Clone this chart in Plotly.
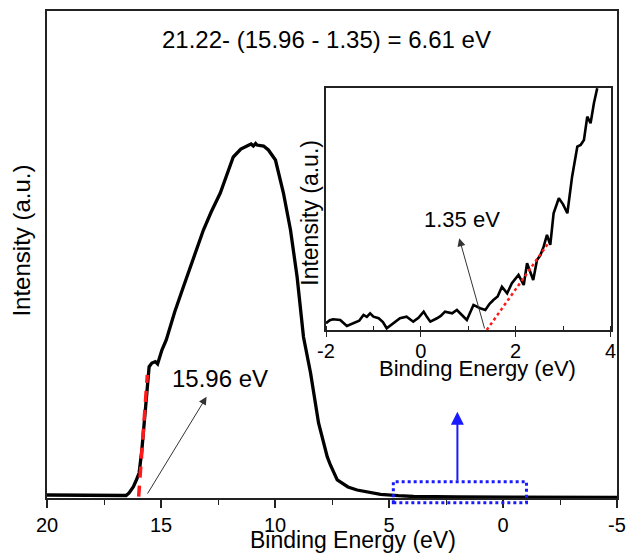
import plotly.graph_objects as go

# ---------------- data ----------------
main_energy = [20.0, 19.0, 18.0, 17.0, 16.6, 16.53, 16.4, 16.21, 16.1, 15.96, 15.84, 15.74,
               15.62, 15.52, 15.40, 15.25, 15.15, 15.04, 14.96, 14.77, 14.4, 14.02, 13.6,
               13.14, 12.8, 12.40, 12.1, 11.83, 11.5, 11.3, 11.17, 11.05, 10.95, 10.85,
               10.79, 10.7, 10.5, 10.29, 9.98, 9.63, 9.32, 9.03, 8.75, 8.44, 8.09, 7.71,
               7.57, 7.27, 7.13, 6.8, 6.40, 5.9, 5.37, 4.6, 3.92, 2.0, 0.0, -5.0]
main_intensity = [0.0062, 0.0062, 0.0062, 0.0062, 0.0055, 0.0051, 0.0103, 0.0232, 0.0349,
                  0.0513, 0.0986, 0.154, 0.2218, 0.2696, 0.2772, 0.2799, 0.2752, 0.2901,
                  0.3039, 0.3244, 0.3819, 0.4333, 0.4908, 0.5503, 0.5873, 0.6263, 0.6653,
                  0.7002, 0.7166, 0.7207, 0.7248, 0.7270, 0.7228, 0.7280, 0.7248, 0.7238,
                  0.7228, 0.7146, 0.6940, 0.6263, 0.5503, 0.4538, 0.3306, 0.2567, 0.1540,
                  0.0848, 0.0678, 0.0370, 0.0329, 0.0226, 0.0164, 0.0113, 0.0076, 0.0047,
                  0.0031, 0.0021, 0.0014, 0.0010]

inset_energy = [-2.0, -1.92, -1.85, -1.70, -1.56, -1.42, -1.30, -1.21, -1.14, -1.07, -1.0,
                -0.89, -0.80, -0.72, -0.58, -0.50, -0.44, -0.30, -0.16, -0.05, 0.06, 0.13,
                0.20, 0.34, 0.42, 0.51, 0.66, 0.76, 0.87, 0.97, 1.11, 1.18, 1.25, 1.36,
                1.45, 1.53, 1.62, 1.71, 1.82, 1.92, 2.06, 2.17, 2.24, 2.37, 2.45, 2.52,
                2.59, 2.66, 2.73, 2.80, 2.91, 3.00, 3.09, 3.19, 3.30, 3.37, 3.44, 3.51,
                3.58, 3.65, 3.72]
inset_intensity = [0.0297, 0.0420, 0.0462, 0.0433, 0.0186, 0.0297, 0.0400, 0.0639, 0.0560,
                   0.0709, 0.0569, 0.0503, 0.0350, 0.0091, 0.0297, 0.0450, 0.0503, 0.0569,
                   0.0363, 0.0520, 0.0775, 0.0550, 0.0363, 0.0503, 0.0600, 0.0775, 0.0709,
                   0.0845, 0.0650, 0.0433, 0.1052, 0.0980, 0.0915, 0.0845, 0.1100, 0.1258,
                   0.1400, 0.1806, 0.1534, 0.1946, 0.2289, 0.1876, 0.2771, 0.2082, 0.2907,
                   0.3100, 0.3456, 0.3938, 0.3526, 0.4833, 0.5452, 0.5200, 0.4833, 0.6342,
                   0.7579, 0.7650, 0.7856, 0.8816, 0.8544, 0.9369, 0.9988]

main_ticks = [20, 15, 10, 5, 0, -5]
main_tick_text = ["20", "15", "10", "5", "0", "-5"]
inset_ticks = [-2, 0, 2, 4]
inset_tick_text = ["-2", "0", "2", "4"]

cutoff_label = "15.96 eV"
vbm_label = "1.35 eV"
wf_text = "21.22- (15.96 - 1.35) = 6.61 eV"
x_title = "Binding Energy (eV)"
y_title = "Intensity (a.u.)"

FONT = "Arial, Liberation Sans, sans-serif"

fig = go.Figure()

fig.add_trace(go.Scatter(x=main_energy, y=main_intensity, mode="lines",
                         line=dict(color="black", width=3.3), xaxis="x", yaxis="y",
                         showlegend=False))
# secondary-electron cutoff linear fit
fig.add_trace(go.Scatter(x=[15.98, 15.60], y=[0.003, 0.253], mode="lines",
                         line=dict(color="#ff1a1a", width=3.5, dash="11px,8px"),
                         xaxis="x", yaxis="y", showlegend=False))

fig.add_trace(go.Scatter(x=inset_energy, y=inset_intensity, mode="lines",
                         line=dict(color="black", width=2.6), xaxis="x2", yaxis="y2",
                         showlegend=False))
fig.add_trace(go.Scatter(x=[1.39, 2.69], y=[0.002, 0.36], mode="lines",
                         line=dict(color="#ff1a1a", width=2.5, dash="dot"),
                         xaxis="x2", yaxis="y2", showlegend=False))

axis_common = dict(showline=True, linecolor="#222", linewidth=1.5, mirror=True,
                   showgrid=False, zeroline=False, automargin=False)

fig.update_layout(
    width=626, height=556,
    margin=dict(l=47, r=9, t=11, b=58),
    paper_bgcolor="white", plot_bgcolor="white",
    font=dict(family=FONT, color="black"),
    xaxis=dict(domain=[0, 1], range=[20, -5], tickvals=main_ticks, ticktext=main_tick_text,
               ticks="outside", ticklen=8, tickwidth=1.5, tickcolor="#222",
               tickfont=dict(size=20), anchor="y", ticklabelstandoff=0,
               minor=dict(dtick=2.5, ticks="outside", ticklen=5, tickwidth=1.2,
                          tickcolor="#222"),
               **axis_common),
    yaxis=dict(domain=[0, 1], range=[0, 1], showticklabels=False, ticks="",
               anchor="x", **axis_common),
    xaxis2=dict(domain=[0.4895, 0.9886], range=[-2, 4], tickvals=inset_ticks,
                ticktext=inset_tick_text,
                ticks="outside", ticklen=5, tickwidth=1.2, tickcolor="#222",
                tickfont=dict(size=20), anchor="y2", ticklabelstandoff=-3,
                minor=dict(dtick=1, ticks="inside", ticklen=5, tickwidth=1.2,
                           tickcolor="#222"),
                **axis_common),
    yaxis2=dict(domain=[0.344, 0.842], range=[0, 1], showticklabels=False, ticks="",
                anchor="x2", **axis_common),
)

ann = []
ann.append(dict(text=wf_text, xref="paper", yref="paper", x=0.4895, y=0.941,
                showarrow=False, font=dict(size=24), xanchor="center", yanchor="middle"))
ann.append(dict(text=x_title, xref="paper", yref="paper", x=0.5368, y=-0.086,
                showarrow=False, font=dict(size=23), xanchor="center", yanchor="middle"))
ann.append(dict(text=y_title, xref="paper", yref="paper", x=-0.0447, y=0.5276,
                showarrow=False, font=dict(size=24), textangle=-90,
                xanchor="center", yanchor="middle"))
ann.append(dict(text=x_title, xref="paper", yref="paper", x=0.756, y=0.2669,
                showarrow=False, font=dict(size=22), xanchor="center", yanchor="middle"))
ann.append(dict(text=y_title, xref="paper", yref="paper", x=0.4614, y=0.5857,
                showarrow=False, font=dict(size=23), textangle=-90,
                xanchor="center", yanchor="middle"))
ann.append(dict(text=cutoff_label, xref="x", yref="y", x=12.41, y=0.2447,
                showarrow=False, font=dict(size=24), xanchor="center", yanchor="middle"))
ann.append(dict(text=vbm_label, xref="x2", yref="y2", x=0.868, y=0.457,
                showarrow=False, font=dict(size=22), xanchor="center", yanchor="middle"))
# arrows
ann.append(dict(text="", xref="x", yref="y", x=13.0, y=0.208, axref="x", ayref="y",
                ax=15.63, ay=0.006, showarrow=True, arrowhead=2, arrowsize=1.6,
                arrowwidth=1, arrowcolor="#333"))
ann.append(dict(text="", xref="x2", yref="y2", x=0.81, y=0.38, axref="x2", ayref="y2",
                ax=1.353, ay=0.002, showarrow=True, arrowhead=2, arrowsize=1.6,
                arrowwidth=1, arrowcolor="#333"))
ann.append(dict(text="", xref="x", yref="y", x=2.0, y=0.1772, axref="x", ayref="y",
                ax=2.0, ay=0.0335, showarrow=True, arrowhead=2, arrowsize=1.3,
                arrowwidth=2, arrowcolor="#1a1aff"))
fig.update_layout(annotations=ann)

fig.add_shape(type="rect", xref="x", yref="paper", x0=4.81, x1=-1.03,
              y0=-0.0097, y1=0.0335,
              line=dict(color="#1a1aff", width=3, dash="dot"))

fig.write_html("out.html", config={"displayModeBar": False},
               post_script="document.body.style.margin='0';document.body.style.overflow='hidden';")
